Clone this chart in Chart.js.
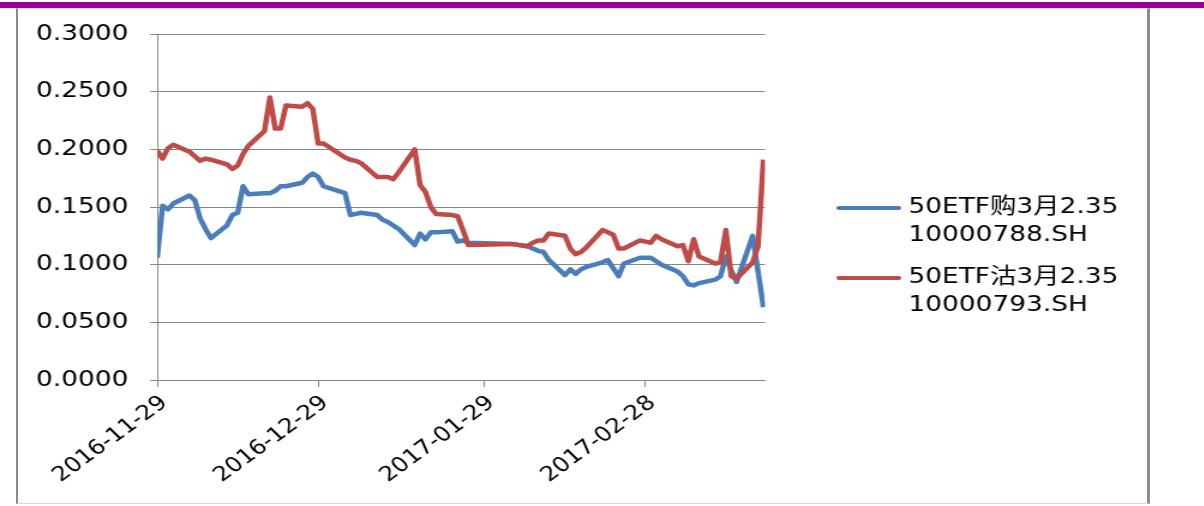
<!DOCTYPE html>
<html>
<head>
<meta charset="utf-8">
<script src="https://cdn.jsdelivr.net/npm/chart.js@4.4.0/dist/chart.umd.min.js"></script>
<style>
  html, body { margin: 0; padding: 0; background: #fff; }
  body { width: 1204px; height: 506px; position: relative; overflow: hidden; }
  #bar { position: absolute; left: 0; top: 2px; width: 1204px; height: 6px; background: #990099; }
  #frame { position: absolute; left: 16px; top: 8px; width: 1129px; height: 494px;
           border-left: 2px solid #8a8a8a; border-right: 3px solid #8c8c8c;
           border-bottom: 1px solid #d8d8d8; border-top: 1px solid #e4e4e4; }
  #wrap { position: absolute; left: 0; top: 0; width: 1003px; height: 506px;
          transform: scaleX(1.2); transform-origin: 0 0; }
</style>
</head>
<body>
<div id="bar"></div>
<div id="frame"></div>
<div id="wrap"><canvas id="chart" width="1003" height="506" style="width:1003px;height:506px"></canvas></div>
<script>
// trading days shown in the chart
const dates = [
  '2016-11-29', '2016-11-30', '2016-12-01', '2016-12-02', '2016-12-05', '2016-12-06', '2016-12-07',
  '2016-12-08', '2016-12-09', '2016-12-12', '2016-12-13', '2016-12-14', '2016-12-15', '2016-12-16',
  '2016-12-19', '2016-12-20', '2016-12-21', '2016-12-22', '2016-12-23', '2016-12-26', '2016-12-27',
  '2016-12-28', '2016-12-29', '2016-12-30', '2017-01-03', '2017-01-04', '2017-01-05', '2017-01-06',
  '2017-01-09', '2017-01-10', '2017-01-11', '2017-01-12', '2017-01-13', '2017-01-16', '2017-01-17',
  '2017-01-18', '2017-01-19', '2017-01-20', '2017-01-23', '2017-01-24', '2017-01-25', '2017-01-26',
  '2017-02-03', '2017-02-06', '2017-02-07', '2017-02-08', '2017-02-09', '2017-02-10', '2017-02-13',
  '2017-02-14', '2017-02-15', '2017-02-16', '2017-02-17', '2017-02-20', '2017-02-21', '2017-02-22',
  '2017-02-23', '2017-02-24', '2017-02-27', '2017-02-28', '2017-03-01', '2017-03-02', '2017-03-03',
  '2017-03-06', '2017-03-07', '2017-03-08', '2017-03-09', '2017-03-10', '2017-03-13', '2017-03-14',
  '2017-03-15', '2017-03-16', '2017-03-17', '2017-03-20', '2017-03-21', '2017-03-22'
];

// 50ETF购3月2.35 (10000788.SH)
const callValues = [
  0.106, 0.151, 0.148, 0.153, 0.160, 0.156, 0.140,
  0.131, 0.123, 0.134, 0.143, 0.145, 0.168, 0.161,
  0.162, 0.162, 0.164, 0.168, 0.168, 0.171, 0.176,
  0.179, 0.176, 0.168, 0.162, 0.143, 0.144, 0.145,
  0.143, 0.139, 0.137, 0.134, 0.131, 0.117, 0.127,
  0.122, 0.128, 0.128, 0.129, 0.120, 0.121, 0.119,
  0.118, 0.116, 0.114, 0.112, 0.111, 0.104, 0.091,
  0.096, 0.092, 0.096, 0.098, 0.102, 0.104, 0.097,
  0.090, 0.101, 0.106, 0.106, 0.106, 0.103, 0.100,
  0.094, 0.090, 0.083, 0.082, 0.084, 0.087, 0.090,
  0.107, 0.095, 0.085, 0.125, 0.094, 0.063
];

// 50ETF沽3月2.35 (10000793.SH)
const putValues = [
  0.199, 0.192, 0.201, 0.204, 0.198, 0.194, 0.190,
  0.192, 0.191, 0.187, 0.183, 0.186, 0.196, 0.203,
  0.216, 0.245, 0.218, 0.218, 0.238, 0.237, 0.240,
  0.235, 0.205, 0.205, 0.193, 0.191, 0.190, 0.188,
  0.176, 0.176, 0.176, 0.174, 0.180, 0.200, 0.169,
  0.163, 0.150, 0.144, 0.143, 0.142, 0.130, 0.117,
  0.118, 0.116, 0.119, 0.121, 0.121, 0.127, 0.125,
  0.114, 0.109, 0.111, 0.115, 0.130, 0.128, 0.126,
  0.114, 0.114, 0.121, 0.120, 0.119, 0.125, 0.122,
  0.116, 0.117, 0.103, 0.122, 0.107, 0.101, 0.102,
  0.130, 0.090, 0.088, 0.102, 0.116, 0.191
];

const seriesNames = [
  ['50ETF购3月2.35', '10000788.SH'],
  ['50ETF沽3月2.35', '10000793.SH']
];
const seriesColors = ['#4a7ebb', '#be4b48'];
const xTickLabels = ['2016-11-29', '2016-12-29', '2017-01-29', '2017-02-28'];
const yTicks = [0, 0.05, 0.1, 0.15, 0.2, 0.25, 0.3];

const FONT = '"DejaVu Sans", "Noto Sans CJK SC", sans-serif';
const DAY = 86400000;
const start = Date.parse(dates[0]);
const dayOf = d => Math.round((Date.parse(d) - start) / DAY);
const points = vals => dates.map((d, i) => ({ x: dayOf(d), y: vals[i] }));

// legend to the right, two lines per entry
const sideLegend = {
  id: 'sideLegend',
  afterDraw(chart) {
    const ctx = chart.ctx;
    ctx.save();
    ctx.font = '22px ' + FONT;
    ctx.fillStyle = '#000';
    seriesNames.forEach((lines, i) => {
      const y = 208 + i * 70;
      ctx.strokeStyle = seriesColors[i];
      ctx.lineWidth = 4;
      ctx.lineCap = 'round';
      ctx.beginPath();
      ctx.moveTo(699, y);
      ctx.lineTo(749, y);
      ctx.stroke();
      lines.forEach((t, j) => ctx.fillText(t, 757, y + 5 + j * 28));
    });
    ctx.restore();
  }
};

new Chart(document.getElementById('chart'), {
  type: 'line',
  data: {
    datasets: [
      { label: seriesNames[0].join(' '), data: points(callValues), borderColor: seriesColors[0],
        borderWidth: 4.5, pointRadius: 0, tension: 0, order: 1, borderJoinStyle: 'round' },
      { label: seriesNames[1].join(' '), data: points(putValues), borderColor: seriesColors[1],
        borderWidth: 4.5, pointRadius: 0, tension: 0, order: 0, borderJoinStyle: 'round' }
    ]
  },
  options: {
    responsive: false,
    animation: false,
    devicePixelRatio: 1,
    layout: { padding: { left: 0, right: 365.5, top: 34, bottom: 16 } },
    plugins: { legend: { display: false }, tooltip: { enabled: false } },
    scales: {
      x: {
        type: 'linear', min: 0, max: 113.3,
        afterBuildTicks: s => { s.ticks = xTickLabels.map(t => ({ value: dayOf(t) })); },
        afterFit: s => { s.height = 110; },
        grid: { drawOnChartArea: false, tickLength: 7, color: '#868686' },
        border: { color: '#868686' },
        ticks: {
          autoSkip: false, minRotation: 41, maxRotation: 41, padding: 4, labelOffset: 6,
          color: '#000', font: { family: FONT, size: 20.5 },
          callback: (v, i) => xTickLabels[i]
        }
      },
      y: {
        min: 0, max: 0.3,
        afterBuildTicks: s => { s.ticks = yTicks.map(v => ({ value: v })); },
        afterFit: s => { s.width = 131; },
        grid: { color: '#868686', tickLength: 6 },
        border: { color: '#868686' },
        ticks: {
          padding: 18, color: '#000', font: { family: FONT, size: 22 },
          callback: v => v.toFixed(4)
        }
      }
    }
  },
  plugins: [sideLegend]
});
</script>
</body>
</html>
